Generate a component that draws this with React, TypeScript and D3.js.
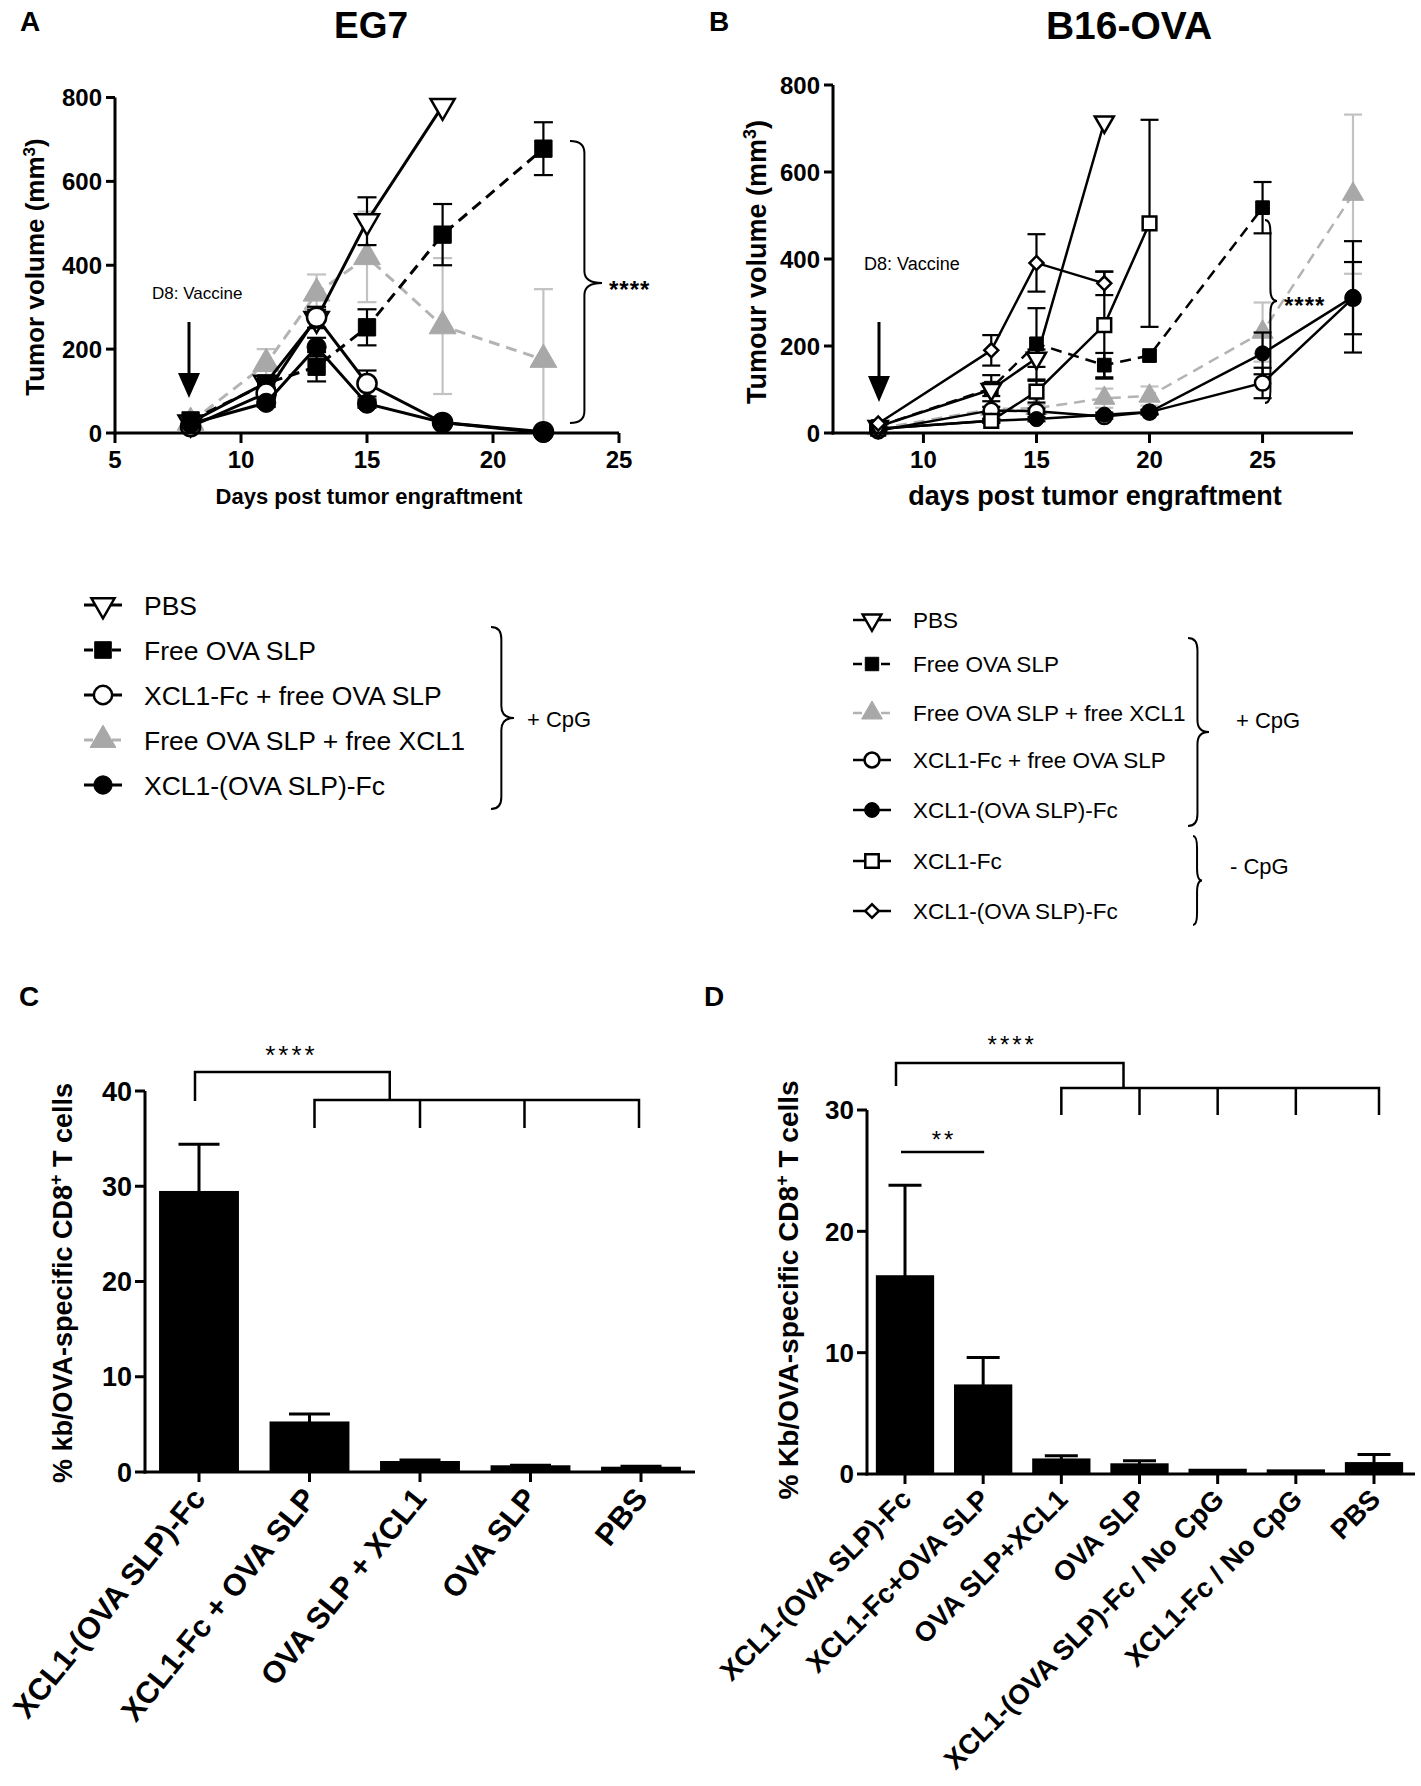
import React from 'react';
import * as d3 from 'd3';

const FONT = "'Liberation Sans', Arial, Helvetica, sans-serif";

// ---- Panel A: EG7 ----
const daysA = [8, 11, 13, 15, 18, 22];
const pbsA = [25, 120, 272, 505, 780];
const pbsAErr = [5, 12, 22, 57, 0];
const freeSlpA = [30, 118, 158, 252, 473, 678];
const freeSlpAErr = [8, 18, 35, 43, 73, 63];
const fcPlusSlpA = [15, 95, 276, 118, 25, 3];
const fcPlusSlpAErr = [5, 12, 25, 31, 6, 2];
const slpXcl1A = [25, 165, 333, 420, 255, 175];
const slpXcl1AErr = [5, 35, 45, 108, 162, 168];
const fusionA = [22, 72, 205, 70, 25, 0];
const fusionAErr = [5, 10, 22, 10, 5, 2];

// ---- Panel B: B16-OVA ----
const daysB = [8, 13, 15, 18, 20, 25, 29];
const pbsB = [15, 100, 172, 715];
const pbsBErr = [5, 15, 20, 0];
const freeSlpB = [15, 103, 205, 156, 178, 518];
const freeSlpBErr = [3, 30, 82, 28, 0, 59];
const slpXcl1B = [10, 55, 57, 80, 85, 232, 549];
const slpXcl1BErr = [3, 6, 8, 22, 22, 68, 183];
const fcPlusSlpB = [5, 52, 50, 38, 48, 115, 310];
const fcPlusSlpBErr = [3, 8, 6, 5, 5, 35, 83];
const fusionB = [10, 28, 32, 42, 48, 183, 313];
const fusionBErr = [3, 4, 5, 5, 5, 48, 128];
const fcOnlyB = [10, 28, 95, 248, 482];
const fcOnlyBErr = [3, 5, 25, 123, 238];
const fusionNoCpgB = [22, 190, 391, 344];
const fusionNoCpgBErr = [5, 35, 66, 27];

// ---- Panel C / D bars ----
const catsC = ['XCL1-(OVA SLP)-Fc', 'XCL1-Fc + OVA SLP', 'OVA SLP + XCL1', 'OVA SLP', 'PBS'];
const valsC = [29.4, 5.2, 1.05, 0.6, 0.45];
const errC = [5.0, 0.9, 0.2, 0.1, 0.15];
const catsD = ['XCL1-(OVA SLP)-Fc', 'XCL1-Fc+OVA SLP', 'OVA SLP+XCL1', 'OVA SLP', 'XCL1-(OVA SLP)-Fc / No CpG', 'XCL1-Fc / No CpG', 'PBS'];
const valsD = [16.3, 7.3, 1.2, 0.8, 0.35, 0.3, 0.9];
const errD = [7.5, 2.3, 0.3, 0.3, 0, 0, 0.7];

const legendA = ['PBS', 'Free OVA SLP', 'XCL1-Fc + free OVA SLP', 'Free OVA SLP + free XCL1', 'XCL1-(OVA SLP)-Fc'];
const legendB = ['PBS', 'Free OVA SLP', 'Free OVA SLP + free XCL1', 'XCL1-Fc + free OVA SLP', 'XCL1-(OVA SLP)-Fc', 'XCL1-Fc', 'XCL1-(OVA SLP)-Fc'];

type Shape = 'invTri' | 'square' | 'circle' | 'tri' | 'diamond';
interface Style { shape: Shape; fill: string; stroke: string; line: string; dash?: string; err: string; }

const GRAY = '#b3b3b3';
const styles: Record<string, Style> = {
  pbs: { shape: 'invTri', fill: '#fff', stroke: '#000', line: '#000', err: '#000' },
  freeSlp: { shape: 'square', fill: '#000', stroke: '#000', line: '#000', dash: '11,7', err: '#000' },
  fcPlusSlp: { shape: 'circle', fill: '#fff', stroke: '#000', line: '#000', err: '#000' },
  slpXcl1: { shape: 'tri', fill: '#a8a8a8', stroke: '#a8a8a8', line: GRAY, dash: '11,7', err: '#c2c2c2' },
  fusion: { shape: 'circle', fill: '#000', stroke: '#000', line: '#000', err: '#000' },
  fcOnly: { shape: 'square', fill: '#fff', stroke: '#000', line: '#000', err: '#000' },
  fusionNoCpg: { shape: 'diamond', fill: '#fff', stroke: '#000', line: '#000', err: '#000' },
};

interface Series { key: string; days: number[]; values: number[]; errors: number[]; }

const seriesA: Series[] = [
  { key: 'slpXcl1', days: daysA, values: slpXcl1A, errors: slpXcl1AErr },
  { key: 'pbs', days: daysA.slice(0, pbsA.length), values: pbsA, errors: pbsAErr },
  { key: 'freeSlp', days: daysA, values: freeSlpA, errors: freeSlpAErr },
  { key: 'fcPlusSlp', days: daysA, values: fcPlusSlpA, errors: fcPlusSlpAErr },
  { key: 'fusion', days: daysA, values: fusionA, errors: fusionAErr },
];
const seriesB: Series[] = [
  { key: 'slpXcl1', days: daysB, values: slpXcl1B, errors: slpXcl1BErr },
  { key: 'fcPlusSlp', days: daysB, values: fcPlusSlpB, errors: fcPlusSlpBErr },
  { key: 'fusion', days: daysB, values: fusionB, errors: fusionBErr },
  { key: 'fcOnly', days: daysB.slice(0, fcOnlyB.length), values: fcOnlyB, errors: fcOnlyBErr },
  { key: 'freeSlp', days: daysB.slice(0, freeSlpB.length), values: freeSlpB, errors: freeSlpBErr },
  { key: 'pbs', days: daysB.slice(0, pbsB.length), values: pbsB, errors: pbsBErr },
  { key: 'fusionNoCpg', days: daysB.slice(0, fusionNoCpgB.length), values: fusionNoCpgB, errors: fusionNoCpgBErr },
];
const legendKeysA = ['pbs', 'freeSlp', 'fcPlusSlp', 'slpXcl1', 'fusion'];
const legendKeysB = ['pbs', 'freeSlp', 'slpXcl1', 'fcPlusSlp', 'fusion', 'fcOnly', 'fusionNoCpg'];

function markerPath(shape: Shape, size: number) {
  const type = shape === 'circle' ? d3.symbolCircle : (shape === 'tri' || shape === 'invTri') ? d3.symbolTriangle : d3.symbolSquare;
  return d3.symbol(type, size)() as string;
}

function Marker({ s, x, y, scale }: { s: Style; x: number; y: number; scale: number }) {
  const base: Record<Shape, number> = { invTri: 210, square: 250, circle: 240, tri: 260, diamond: 130 };
  const rot = s.shape === 'invTri' ? 180 : s.shape === 'diamond' ? 45 : 0;
  const open = s.fill === '#fff';
  return (
    <path d={markerPath(s.shape, base[s.shape] * scale)} transform={`translate(${x},${y}) rotate(${rot})`}
      fill={s.fill} stroke={s.stroke} strokeWidth={open ? 2.5 : 1} />
  );
}

function brace(x: number, y0: number, y1: number, w: number, ym = (y0 + y1) / 2) {
  const xm = x + w * 0.45;
  const r = Math.min(12, (ym - y0) / 3);
  return `M${x},${y0} Q${xm},${y0} ${xm},${y0 + r} L${xm},${ym - r} Q${xm},${ym} ${x + w},${ym} Q${xm},${ym} ${xm},${ym + r} L${xm},${y1 - r} Q${xm},${y1} ${x},${y1}`;
}

interface LineCfg {
  series: Series[]; x: d3.ScaleLinear<number, number>; y: d3.ScaleLinear<number, number>;
  xTicks: number[]; yTicks: number[]; lw: number; capW: number; mScale: number; tickFont: number;
}

function LinePlot({ series, x, y, xTicks, yTicks, lw, capW, mScale, tickFont }: LineCfg) {
  const [x0, x1] = x.range();
  const [y0, y1] = y.range();
  return (
    <g>
      {series.map(sr => {
        const s = styles[sr.key];
        const line = d3.line<number>().x((_, i) => x(sr.days[i])).y(v => y(v));
        return (
          <g key={sr.key}>
            {sr.values.map((v, i) => sr.errors[i] > 0 && (
              <g key={i} stroke={s.err} strokeWidth={2.2}>
                <line x1={x(sr.days[i])} x2={x(sr.days[i])} y1={y(v - sr.errors[i])} y2={y(v + sr.errors[i])} />
                <line x1={x(sr.days[i]) - capW / 2} x2={x(sr.days[i]) + capW / 2} y1={y(v + sr.errors[i])} y2={y(v + sr.errors[i])} />
                <line x1={x(sr.days[i]) - capW / 2} x2={x(sr.days[i]) + capW / 2} y1={y(Math.max(0, v - sr.errors[i]))} y2={y(Math.max(0, v - sr.errors[i]))} />
              </g>
            ))}
            <path d={line(sr.values) as string} fill="none" stroke={s.line} strokeWidth={lw} strokeDasharray={s.dash} />
            {sr.values.map((v, i) => <Marker key={i} s={s} x={x(sr.days[i])} y={y(v)} scale={mScale} />)}
          </g>
        );
      })}
      <g stroke="#000" strokeWidth={3} fill="none">
        <line x1={x0} x2={x0} y1={y0 + 1.5} y2={y1} />
        <line x1={x0 - 1.5} x2={x1} y1={y0} y2={y0} />
        {yTicks.map(t => <line key={t} x1={x0 - 9} x2={x0} y1={y(t)} y2={y(t)} />)}
        {xTicks.map(t => <line key={t} x1={x(t)} x2={x(t)} y1={y0} y2={y0 + 10} />)}
      </g>
      <g fontFamily={FONT} fontWeight="bold" fontSize={tickFont}>
        {yTicks.map(t => <text key={t} x={x0 - 13} y={y(t) + tickFont * 0.36} textAnchor="end">{t}</text>)}
        {xTicks.map(t => <text key={t} x={x(t)} y={y0 + 35} textAnchor="middle">{t}</text>)}
      </g>
    </g>
  );
}

function Legend({ labels, keys, x, y0, dy, font, mScale, lw }: { labels: string[]; keys: string[]; x: number; y0: number; dy: number[]; font: number; mScale: number; lw: number }) {
  return (
    <g fontFamily={FONT} fontSize={font}>
      {labels.map((lab, i) => {
        const s = styles[keys[i]];
        const yy = y0 + dy[i];
        return (
          <g key={i}>
            <line x1={x - 19} x2={x + 19} y1={yy} y2={yy} stroke={s.line} strokeWidth={lw} strokeDasharray={s.dash ? '9,5' : undefined} />
            <Marker s={s} x={x} y={yy} scale={mScale} />
            <text x={x + 41} y={yy + font * 0.36}>{lab}</text>
          </g>
        );
      })}
    </g>
  );
}

interface BarCfg {
  cats: string[]; vals: number[]; errs: number[]; x: d3.ScalePoint<string>; y: d3.ScaleLinear<number, number>;
  axisX: [number, number]; barW: number; capW: number; yTicks: number[]; tickFont: number; catFont: number; angle: number;
}

function BarPlot({ cats, vals, errs, x, y, axisX, barW, capW, yTicks, tickFont, catFont, angle }: BarCfg) {
  const y0 = y.range()[0];
  const yTop = y(yTicks[yTicks.length - 1]);
  return (
    <g>
      {cats.map((c, i) => (
        <g key={c}>
          {errs[i] > 0 && (
            <g stroke="#000" strokeWidth={3}>
              <line x1={x(c)!} x2={x(c)!} y1={y(vals[i])} y2={y(vals[i] + errs[i])} />
              <line x1={x(c)! - capW / 2} x2={x(c)! + capW / 2} y1={y(vals[i] + errs[i])} y2={y(vals[i] + errs[i])} />
            </g>
          )}
          <rect x={x(c)! - barW / 2} width={barW} y={y(vals[i])} height={y0 - y(vals[i])} fill="#000" stroke="#000" strokeWidth={2} />
        </g>
      ))}
      <g stroke="#000" strokeWidth={3}>
        <line x1={axisX[0]} x2={axisX[0]} y1={y0 + 1.5} y2={yTop} />
        <line x1={axisX[0] - 1.5} x2={axisX[1]} y1={y0} y2={y0} />
        {yTicks.map(t => <line key={t} x1={axisX[0] - 10} x2={axisX[0]} y1={y(t)} y2={y(t)} />)}
        {cats.map(c => <line key={c} x1={x(c)!} x2={x(c)!} y1={y0} y2={y0 + 10} />)}
      </g>
      <g fontFamily={FONT} fontWeight="bold">
        {yTicks.map(t => <text key={t} x={axisX[0] - 13} y={y(t) + tickFont * 0.36} fontSize={tickFont} textAnchor="end">{t}</text>)}
        {cats.map(c => (
          <text key={c} fontSize={catFont} textAnchor="end"
            transform={`translate(${x(c)! + 8},${y0 + 27}) rotate(${-angle})`}>{c}</text>
        ))}
      </g>
    </g>
  );
}

const App: React.FC = () => {
  const xA = d3.scaleLinear().domain([5, 25]).range([115, 619]);
  const yA = d3.scaleLinear().domain([0, 800]).range([433, 97.5]);
  const xB = d3.scaleLinear().domain([6, 29]).range([833, 1353]);
  const yB = d3.scaleLinear().domain([0, 800]).range([433, 85]);

  const xC = d3.scalePoint<string>().domain(catsC).range([199, 641]);
  const yC = d3.scaleLinear().domain([0, 40]).range([1472, 1091]);
  const xD = d3.scalePoint<string>().domain(catsD).range([905, 1374]);
  const yD = d3.scaleLinear().domain([0, 30]).range([1474, 1110]);

  const stepC = xC.step();
  const stepD = xD.step();
  const c = (i: number) => xC(catsC[i])!;
  const d = (i: number) => xD(catsD[i])!;

  return (
    <svg width={1421} height={1786} style={{ position: 'absolute', left: 0, top: 0, background: '#fff' }}>
      <rect width={1421} height={1786} fill="#fff" />
      {/* panel letters and titles */}
      <g fontFamily={FONT} fontWeight="bold">
        <text x={20} y={31} fontSize={28}>A</text>
        <text x={709} y={31} fontSize={28}>B</text>
        <text x={19} y={1006} fontSize={28}>C</text>
        <text x={704} y={1006} fontSize={28}>D</text>
        <text x={371} y={38} fontSize={37} textAnchor="middle">EG7</text>
        <text x={1129} y={39} fontSize={39} textAnchor="middle">B16-OVA</text>
      </g>

      {/* Panel A */}
      <LinePlot series={seriesA} x={xA} y={yA} xTicks={[5, 10, 15, 20, 25]} yTicks={[0, 200, 400, 600, 800]}
        lw={3} capW={19} mScale={1.2} tickFont={24} />
      <g fontFamily={FONT} fontWeight="bold">
        <text transform="translate(44,267) rotate(-90)" fontSize={26} textAnchor="middle">
          Tumor volume (mm<tspan dy={-9} fontSize={17}>3</tspan><tspan dy={9}>)</tspan>
        </text>
        <text x={369} y={504} fontSize={22} textAnchor="middle">Days post tumor engraftment</text>
      </g>
      <text x={152} y={299} fontFamily={FONT} fontSize={17}>D8: Vaccine</text>
      <line x1={189} x2={189} y1={322} y2={376} stroke="#000" strokeWidth={3} />
      <path d="M178,373 L200,373 L189,398 Z" fill="#000" />
      <path d={brace(570, 141, 423, 32, 283)} fill="none" stroke="#000" strokeWidth={2} />
      <text x={609} y={298} fontFamily={FONT} fontWeight="bold" fontSize={24} letterSpacing={1}>****</text>

      {/* Panel B */}
      <LinePlot series={seriesB} x={xB} y={yB} xTicks={[10, 15, 20, 25]} yTicks={[0, 200, 400, 600, 800]}
        lw={2.5} capW={18} mScale={0.75} tickFont={24} />
      <g fontFamily={FONT} fontWeight="bold">
        <text transform="translate(766,262) rotate(-90)" fontSize={27} textAnchor="middle">
          Tumour volume (mm<tspan dy={-10} fontSize={18}>3</tspan><tspan dy={10}>)</tspan>
        </text>
        <text x={1095} y={505} fontSize={27} textAnchor="middle">days post tumor engraftment</text>
      </g>
      <text x={864} y={270} fontFamily={FONT} fontSize={18}>D8: Vaccine</text>
      <line x1={879} x2={879} y1={322} y2={379} stroke="#000" strokeWidth={3} />
      <path d="M868,376 L890,376 L879,402 Z" fill="#000" />
      <path d={brace(1265, 220, 403, 12, 301)} fill="none" stroke="#000" strokeWidth={2} />
      <text x={1284} y={314} fontFamily={FONT} fontWeight="bold" fontSize={24} letterSpacing={1}>****</text>

      {/* Legends */}
      <Legend labels={legendA} keys={legendKeysA} x={103} y0={605} dy={[0, 45, 90, 135, 180]} font={26.5} mScale={1.1} lw={3} />
      <path d={brace(491, 627, 809, 23)} fill="none" stroke="#000" strokeWidth={2} />
      <text x={527} y={727} fontFamily={FONT} fontSize={22}>+ CpG</text>

      <Legend labels={legendB} keys={legendKeysB} x={872} y0={620} dy={[0, 44, 93, 140, 190, 241, 291]} font={22.5} mScale={0.72} lw={2.5} />
      <path d={brace(1188, 638, 826, 21)} fill="none" stroke="#000" strokeWidth={2} />
      <text x={1236} y={728} fontFamily={FONT} fontSize={22}>+ CpG</text>
      <path d={brace(1193, 836, 925, 9)} fill="none" stroke="#000" strokeWidth={2} />
      <text x={1230} y={874} fontFamily={FONT} fontSize={22}>- CpG</text>

      {/* Panel C */}
      <BarPlot cats={catsC} vals={valsC} errs={errC} x={xC} y={yC} axisX={[145, 695]} barW={stepC * 0.705}
        capW={41} yTicks={[0, 10, 20, 30, 40]} tickFont={27} catFont={30.5} angle={51} />
      <g fontFamily={FONT} fontWeight="bold">
        <text transform="translate(72,1283) rotate(-90)" fontSize={27} textAnchor="middle">
          % kb/OVA-specific CD8<tspan dy={-10} fontSize={18}>+</tspan><tspan dy={10}> T cells</tspan>
        </text>
      </g>
      <g stroke="#000" strokeWidth={2.5} fill="none">
        <path d={`M${c(0) - 4},${1101} V1072 H${(c(1) + c(2)) / 2 + 25} V1100`} />
        <path d={`M${c(1) + 5},1128 V1100 H${c(4) - 2} V1128`} />
        <path d={`M${c(2)},1100 V1128 M${c(3) - 6},1100 V1128`} />
      </g>
      <text x={(c(0) + c(2)) / 2 - 18} y={1064} fontFamily={FONT} fontSize={26} textAnchor="middle" letterSpacing={3}>****</text>

      {/* Panel D */}
      <BarPlot cats={catsD} vals={valsD} errs={errD} x={xD} y={yD} axisX={[867, 1415]} barW={stepD * 0.72}
        capW={33} yTicks={[0, 10, 20, 30]} tickFont={26} catFont={27.5} angle={45} />
      <g fontFamily={FONT} fontWeight="bold">
        <text transform="translate(798,1290) rotate(-90)" fontSize={28} textAnchor="middle">
          % Kb/OVA-specific CD8<tspan dy={-10} fontSize={18}>+</tspan><tspan dy={10}> T cells</tspan>
        </text>
      </g>
      <g stroke="#000" strokeWidth={2.5} fill="none">
        <path d={`M${d(0) - 9},1086 V1063 H${d(3) - 16} V1088`} />
        <path d={`M${d(2)},1115 V1088 H${d(6) + 5} V1115`} />
        {[3, 4, 5].map(i => <path key={i} d={`M${d(i)},1088 V1115`} />)}
        <path d={`M${d(0) - 4},1152 H${d(1) + 1}`} />
      </g>
      <text x={(d(0) + d(3)) / 2 - 10} y={1053} fontFamily={FONT} fontSize={24} textAnchor="middle" letterSpacing={3}>****</text>
      <text x={(d(0) + d(1)) / 2} y={1148} fontFamily={FONT} fontSize={24} textAnchor="middle" letterSpacing={3}>**</text>
    </svg>
  );
};

export default App;
